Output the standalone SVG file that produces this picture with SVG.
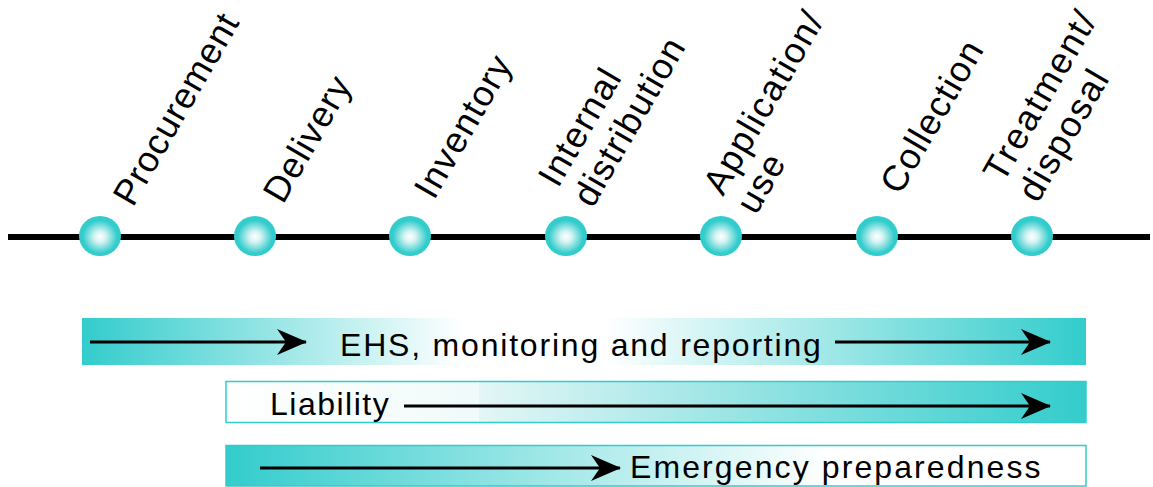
<svg xmlns="http://www.w3.org/2000/svg" width="1153" height="487" viewBox="0 0 1153 487">
  <style>
    .lbl { font-family: "Liberation Sans", Arial, sans-serif; font-size: 36px; letter-spacing: 1.2px; fill: #000; }
    .bar-t { font-family: "Liberation Sans", Arial, sans-serif; font-size: 32px; letter-spacing: 1.8px; fill: #000; }
    .node { fill: url(#nodeGrad); }
    .arr { stroke: #000; stroke-width: 3; fill: none; marker-end: url(#head); }
    .border { stroke: #33CCCC; stroke-width: 1.5; }
  </style>
  <defs>
    <radialGradient id="nodeGrad" cx="50%" cy="52%" r="55%">
      <stop offset="0" stop-color="#ffffff"/>
      <stop offset="0.25" stop-color="#d6f3f3"/>
      <stop offset="0.75" stop-color="#33CCCC"/>
      <stop offset="1" stop-color="#33CCCC"/>
    </radialGradient>
    <linearGradient id="g1" x1="0" y1="0" x2="1" y2="0">
      <stop offset="0" stop-color="#33CCCC"/>
      <stop offset="0.38" stop-color="#ffffff"/>
      <stop offset="0.52" stop-color="#ffffff"/>
      <stop offset="1" stop-color="#33CCCC"/>
    </linearGradient>
    <linearGradient id="g2" x1="0" y1="0" x2="1" y2="0">
      <stop offset="0" stop-color="#ffffff"/>
      <stop offset="0.293" stop-color="#f0fafa"/>
      <stop offset="0.294" stop-color="#e4f6f6"/>
      <stop offset="1" stop-color="#33CCCC"/>
    </linearGradient>
    <linearGradient id="g3" x1="0" y1="0" x2="1" y2="0">
      <stop offset="0" stop-color="#33CCCC"/>
      <stop offset="0.7" stop-color="#ffffff"/>
      <stop offset="1" stop-color="#ffffff"/>
    </linearGradient>
    <marker id="head" viewBox="0 0 30 28" refX="29" refY="14" markerWidth="30" markerHeight="28" markerUnits="userSpaceOnUse" orient="auto">
      <path d="M0,1 L30,14 L0,27 L9,14 Z" fill="#000"/>
    </marker>
  </defs>

  <g id="connectors">
    <line x1="8" y1="237" x2="1150" y2="237" stroke="#000" stroke-width="6"/>
  </g>

  <g id="node-procurement">
    <ellipse class="node" cx="100" cy="236" rx="21" ry="20"/>
    <text class="lbl" transform="translate(133,208) rotate(-60)" style="letter-spacing:0.8px">Procurement</text>
  </g>
  <g id="node-delivery">
    <ellipse class="node" cx="255" cy="236" rx="21" ry="20"/>
    <text class="lbl" transform="translate(283,205) rotate(-60)">Delivery</text>
  </g>
  <g id="node-inventory">
    <ellipse class="node" cx="410" cy="236" rx="21" ry="20"/>
    <text class="lbl" transform="translate(434,201) rotate(-60)">Inventory</text>
  </g>
  <g id="node-internal">
    <ellipse class="node" cx="566" cy="236" rx="21" ry="20"/>
    <text class="lbl" transform="translate(558,189) rotate(-60)">Internal<tspan x="0" dy="40">distribution</tspan></text>
  </g>
  <g id="node-application">
    <ellipse class="node" cx="721" cy="236" rx="21" ry="20"/>
    <text class="lbl" transform="translate(723,197) rotate(-60)" style="letter-spacing:1.6px">Application/<tspan x="0" dy="38">use</tspan></text>
  </g>
  <g id="node-collection">
    <ellipse class="node" cx="877" cy="236" rx="21" ry="20"/>
    <text class="lbl" transform="translate(900,196) rotate(-60)">Collection</text>
  </g>
  <g id="node-treatment">
    <ellipse class="node" cx="1032" cy="236" rx="21" ry="20"/>
    <text class="lbl" transform="translate(1003,184) rotate(-60)" style="letter-spacing:1.8px">Treatment/<tspan x="0" dy="40">disposal</tspan></text>
  </g>

  <g id="bar-ehs">
    <rect x="82" y="318" width="1004" height="47" fill="url(#g1)"/>
    <text class="bar-t" x="340" y="356">EHS, monitoring and reporting</text>
  </g>
  <g id="bar-liability">
    <rect class="border" x="226" y="381.5" width="860" height="41" fill="url(#g2)"/>
    <line x1="478" y1="382" x2="478" y2="422" stroke="#ffffff" stroke-width="1" opacity="0.6"/>
    <text class="bar-t" x="270" y="415" style="letter-spacing:1.5px">Liability</text>
  </g>
  <g id="bar-emergency">
    <rect class="border" x="226" y="445.5" width="860" height="40.5" fill="url(#g3)"/>
    <text class="bar-t" x="630" y="478" style="letter-spacing:2.1px">Emergency preparedness</text>
  </g>

  <g id="bar-arrows">
    <line class="arr" x1="90" y1="342" x2="306" y2="342"/>
    <line class="arr" x1="835" y1="342" x2="1050" y2="342"/>
    <line class="arr" x1="404" y1="406" x2="1050" y2="406"/>
    <line class="arr" x1="260" y1="468" x2="620" y2="468"/>
  </g>
</svg>
